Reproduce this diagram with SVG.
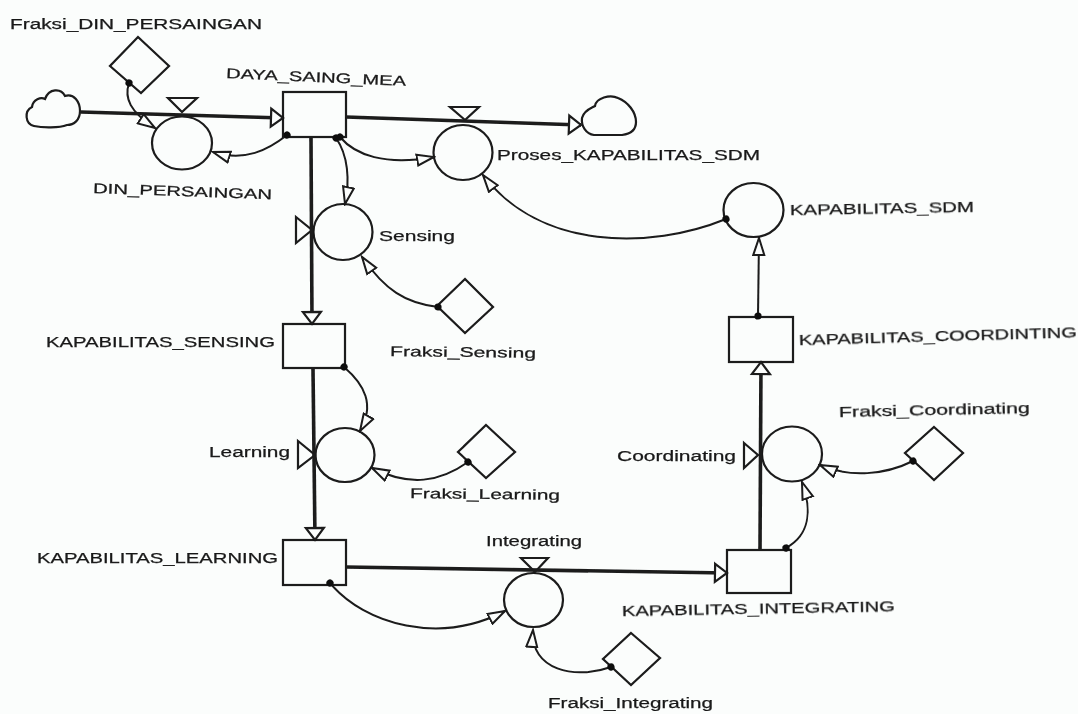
<svg xmlns="http://www.w3.org/2000/svg" width="1078" height="714" viewBox="0 0 1078 714">
<style>
.s{fill:#fbfdfc;stroke:#1a1a1a;stroke-width:2.2}
.t{font-family:"Liberation Sans",Arial,sans-serif;font-size:14px;fill:#1a1a1a;stroke:#1a1a1a;stroke-width:.25}
.f{fill:none;stroke:#1c1c1c;stroke-width:3.6}
.c{fill:none;stroke:#1a1a1a;stroke-width:2;marker-start:url(#dot);marker-end:url(#open)}
</style>
<defs>
<filter id="soft" x="0" y="0" width="1" height="1"><feGaussianBlur stdDeviation="0.55"/></filter>
<marker id="open" markerUnits="userSpaceOnUse" markerWidth="20" markerHeight="14" refX="18" refY="7" orient="auto"><path d="M1 1.5L18 7L1 12.5Z" fill="#fbfdfc" stroke="#1a1a1a" stroke-width="2"/></marker>
<marker id="flow" markerUnits="userSpaceOnUse" markerWidth="16" markerHeight="24" refX="14" refY="12" orient="auto"><path d="M2 3L14 12L2 21Z" fill="#fbfdfc" stroke="#1a1a1a" stroke-width="2.2"/></marker>
<marker id="dot" markerUnits="userSpaceOnUse" markerWidth="10" markerHeight="10" refX="5" refY="5" orient="auto"><circle cx="5" cy="5" r="3.6" fill="#111"/></marker>
</defs>
<rect width="1078" height="714" fill="#fbfdfc"/>
<g filter="url(#soft)">
<g id="cloud-source"><path class="s" transform="translate(1 -2)" d="M33 128C24 126 23 113 31 109C32 101 40 99 44 101C48 90 60 90 64 98C73 95 79 104 79 113C79 122 73 127 66 127C58 130 42 130 33 128Z"/></g>
<g id="cloud-sink"><path class="s" d="M582 118C584 110 592 108 595 106C596 98 610 94 618 98C628 102 636 112 636 122C636 130 630 134 622 135L594 135C586 134 581 126 582 118Z"/></g>
<g id="DAYA_SAING_MEA"><rect class="s" x="283" y="92" width="63" height="45"/><text class="t" x="226" y="78" textLength="180" lengthAdjust="spacingAndGlyphs" transform="rotate(2.5 226 78)">DAYA_SAING_MEA</text></g>
<g id="KAPABILITAS_SENSING"><rect class="s" x="283" y="324" width="62" height="44"/><text class="t" x="46" y="347" textLength="229" lengthAdjust="spacingAndGlyphs">KAPABILITAS_SENSING</text></g>
<g id="KAPABILITAS_LEARNING"><rect class="s" x="283" y="540" width="63" height="45"/><text class="t" x="37" y="563" textLength="241" lengthAdjust="spacingAndGlyphs">KAPABILITAS_LEARNING</text></g>
<g id="KAPABILITAS_INTEGRATING"><rect class="s" x="727" y="550" width="64" height="43"/><text class="t" x="622" y="616" textLength="273" lengthAdjust="spacingAndGlyphs" transform="rotate(-1 622 616)">KAPABILITAS_INTEGRATING</text></g>
<g id="KAPABILITAS_COORDINTING"><rect class="s" x="729" y="317" width="64" height="45"/><text class="t" x="799" y="345" textLength="278" lengthAdjust="spacingAndGlyphs" transform="rotate(-1.6 799 345)">KAPABILITAS_COORDINTING</text></g>
<g id="DIN_PERSAINGAN"><ellipse class="s" cx="182" cy="143" rx="30" ry="26.5"/><path class="s" d="M168 98H197L182 112Z"/><text class="t" x="93" y="193" textLength="179" lengthAdjust="spacingAndGlyphs" transform="rotate(2 93 193)">DIN_PERSAINGAN</text></g>
<g id="Proses_KAPABILITAS_SDM"><ellipse class="s" cx="463" cy="152.500" rx="29.500" ry="27.500"/><path class="s" d="M450 107H479L465 120Z"/><text class="t" x="497" y="160" textLength="263" lengthAdjust="spacingAndGlyphs">Proses_KAPABILITAS_SDM</text></g>
<g id="Sensing"><ellipse class="s" cx="343" cy="232" rx="29.500" ry="28"/><path class="s" d="M296 217L312 230L296 243Z"/><text class="t" x="379" y="241" textLength="76" lengthAdjust="spacingAndGlyphs">Sensing</text></g>
<g id="Learning"><ellipse class="s" cx="345" cy="455" rx="29.500" ry="27"/><path class="s" d="M298 441L315 455L298 468Z"/><text class="t" x="209" y="457" textLength="81" lengthAdjust="spacingAndGlyphs">Learning</text></g>
<g id="Integrating"><ellipse class="s" cx="533.500" cy="600" rx="29.500" ry="27"/><path class="s" d="M521 558H548L535 572Z"/><text class="t" x="486" y="546" textLength="96" lengthAdjust="spacingAndGlyphs">Integrating</text></g>
<g id="Coordinating"><ellipse class="s" cx="792" cy="454" rx="30" ry="27.500"/><path class="s" d="M744 443L758 455L744 468Z"/><text class="t" x="617" y="461" textLength="119" lengthAdjust="spacingAndGlyphs">Coordinating</text></g>
<g id="KAPABILITAS_SDM"><ellipse class="s" cx="753.500" cy="210" rx="30" ry="27"/><text class="t" x="790" y="215" textLength="184" lengthAdjust="spacingAndGlyphs" transform="rotate(-1 790 215)">KAPABILITAS_SDM</text></g>
<g id="Fraksi_DIN_PERSAINGAN"><path class="s" d="M138 37L169 66L141 93L110 66Z"/><text class="t" x="10" y="29" textLength="252" lengthAdjust="spacingAndGlyphs">Fraksi_DIN_PERSAINGAN</text></g>
<g id="Fraksi_Sensing"><path class="s" d="M465 279L493 307L465 333L437 306Z"/><text class="t" x="390" y="356" textLength="146" lengthAdjust="spacingAndGlyphs" transform="rotate(.7 390 356)">Fraksi_Sensing</text></g>
<g id="Fraksi_Learning"><path class="s" d="M486 425L515 452L486 478L458 452Z"/><text class="t" x="410" y="498" textLength="150" lengthAdjust="spacingAndGlyphs" transform="rotate(.7 410 498)">Fraksi_Learning</text></g>
<g id="Fraksi_Integrating"><path class="s" d="M631 633L660 658L631 685L603 659Z"/><text class="t" x="548" y="708" textLength="165" lengthAdjust="spacingAndGlyphs">Fraksi_Integrating</text></g>
<g id="Fraksi_Coordinating"><path class="s" d="M934 427L963 453L934 480L905 453Z"/><text class="t" x="839" y="417" textLength="191" lengthAdjust="spacingAndGlyphs" transform="rotate(-1.2 839 417)">Fraksi_Coordinating</text></g>
<g id="connectors">
<path class="f" marker-end="url(#flow)" d="M81 112L283 118"/>
<path class="f" marker-end="url(#flow)" d="M346 117L581 125"/>
<path class="f" marker-end="url(#flow)" d="M311 138L312 324"/>
<path class="f" marker-end="url(#flow)" d="M313 369L315 540"/>
<path class="f" marker-end="url(#flow)" d="M346 567L727 573"/>
<path class="f" marker-end="url(#flow)" d="M760 550L761 362"/>
<path class="c" d="M129 83C124 98 130 112 155 128"/>
<path class="c" d="M287 135C268 150 245 162 213 152"/>
<path class="c" d="M340 137C355 155 385 166 434 157"/>
<path class="c" d="M336 138C348 155 350 180 345 204"/>
<path class="c" d="M438 307C405 303 385 290 362 257"/>
<path class="c" d="M726 219C650 250 540 250 483 175"/>
<path class="c" d="M758 316L759 238"/>
<path class="c" d="M344 367C365 385 375 405 360 431"/>
<path class="c" d="M468 462C440 482 410 487 372 468"/>
<path class="c" d="M330 583C365 625 440 645 505 611"/>
<path class="c" d="M611 667C575 680 530 670 533 630"/>
<path class="c" d="M786 548C810 535 812 510 802 482"/>
<path class="c" d="M913 461C885 475 850 478 820 465"/>
</g>
</g>
</svg>
